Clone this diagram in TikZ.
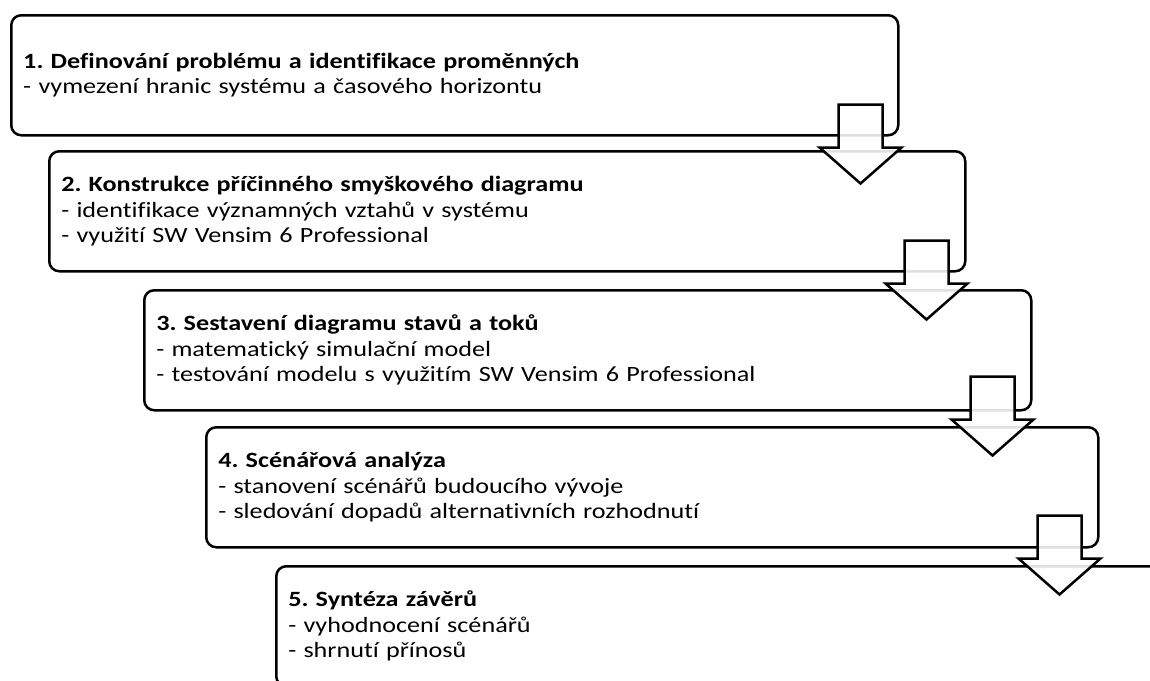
\documentclass[tikz,border=0pt]{standalone}
\usepackage{fontspec}
\setmainfont{Carlito}[Ligatures=NoCommon, FakeStretch=1.2]
\usetikzlibrary{calc}
\begin{document}
\frenchspacing
\begin{tikzpicture}[x=1pt,y=-1pt,
  stepbox/.style={draw=black, line width=2.5pt, rounded corners=10pt, fill=white,
    anchor=north west, minimum height=120pt, inner xsep=12pt, inner ysep=0pt,
    align=left, font=\fontsize{21.8}{25.5}\selectfont},
  blockarrow/.pic={
    \draw[line width=2.5pt, line join=miter, fill=white, fill opacity=0.88]
      (-22,0) -- (22,0) -- (22,43) -- (41,43) -- (0,79) -- (-41,43) -- (-22,43) -- cycle;
  }]
\useasboundingbox (0,0) rectangle (1150,680);
\clip (0,0) rectangle (1150,680);

\node[stepbox, text width=863pt] (b1) at (10,14)
  {\textbf{1. Definování problému a identifikace proměnných}\\
   - vymezení hranic systému a časového horizontu};
\node[stepbox, text width=892pt] (b2) at (48,150)
  {\textbf{2. Konstrukce příčinného smyškového diagramu}\\
   - identifikace významných vztahů v systému\\
   - využití SW Vensim 6 Professional};
\node[stepbox, text width=863pt] (b3) at (143,289)
  {\textbf{3. Sestavení diagramu stavů a toků}\\
   - matematický simulační model\\
   - testování modelu s využitím SW Vensim 6 Professional};
\node[stepbox, text width=868pt] (b4) at (205,426)
  {\textbf{4. Scénářová analýza}\\
   - stanovení scénářů budoucího vývoje\\
   - sledování dopadů alternativních rozhodnutí};
\node[stepbox, text width=866pt] (b5) at (275,565)
  {\textbf{5. Syntéza závěrů}\\
   - vyhodnocení scénářů\\
   - shrnutí přínosů};

% downward block arrows linking consecutive steps
\pic at ($(b1.south east)+(-39,-32)$) {blockarrow};
\pic at ($(b2.south east)+(-40,-32)$) {blockarrow};
\pic at ($(b3.south east)+(-40,-35)$) {blockarrow};
\pic at ($(b4.south east)+(-40,-33)$) {blockarrow};
\end{tikzpicture}
\end{document}
